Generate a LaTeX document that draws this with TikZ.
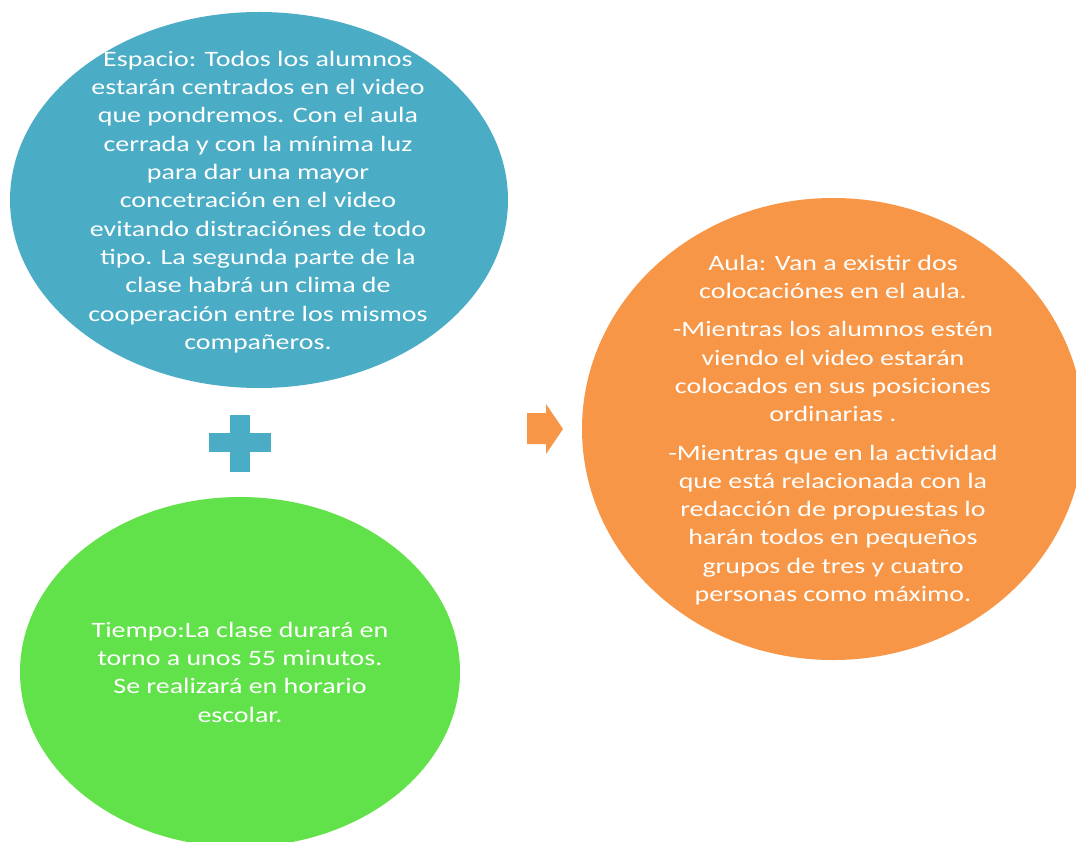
\documentclass[tikz,border=0pt]{standalone}
\usepackage{fontspec}
\setmainfont{Carlito}[FakeStretch=1.27]
\usetikzlibrary{shapes.geometric}
\definecolor{cblue}{HTML}{4BACC6}
\definecolor{corange}{HTML}{F79646}
\definecolor{cgreen}{HTML}{62E24A}
\begin{document}
\begin{tikzpicture}[x=1pt,y=-1pt,
  blob/.style={ellipse,inner sep=0pt,draw=none},
  txt/.style={text=white,align=center,inner sep=0pt,font=\fontsize{22}{28.3}\selectfont}]
\useasboundingbox (0,0) rectangle (1076,842);
\node[blob,fill=cblue,minimum width=498,minimum height=376] (espE) at (259,200) {};
\node[blob,fill=cgreen,minimum width=440,minimum height=350] (tiempoE) at (240,672) {};
\node[blob,fill=corange,minimum width=502,minimum height=462] (aulaE) at (833,429) {};
\node[txt] (esp) at (258,202) {Espacio: Todos los alumnos\\estarán centrados en el video\\que pondremos. Con el aula\\cerrada y con la mínima luz\\para dar una mayor\\concetración en el video\\evitando distraciónes de todo\\tipo. La segunda parte de la\\clase habrá un clima de\\cooperación entre los mismos\\compañeros.};
\node[txt] (tiempo) at (240,672) {Tiempo:La clase durará en\\torno a unos 55 minutos.\\Se realizará en horario\\escolar.};
\node[txt] (aula) at (833,430) {Aula: Van a existir dos\\colocaciónes en el aula.\\[10pt]-Mientras los alumnos estén\\viendo el video estarán\\colocados en sus posiciones\\ordinarias .\\[10pt]-Mientras que en la actividad\\que está relacionada con la\\redacción de propuestas lo\\harán todos en pequeños\\grupos de tres y cuatro\\personas como máximo.};
% plus sign
\fill[cblue] (209,433) rectangle (271,452);
\fill[cblue] (230,415) rectangle (250,472);
% arrow
\fill[corange] (527,413) -- (546,413) -- (546,404) -- (563,429) -- (546,454) -- (546,444) -- (527,444) -- cycle;
\end{tikzpicture}
\end{document}
